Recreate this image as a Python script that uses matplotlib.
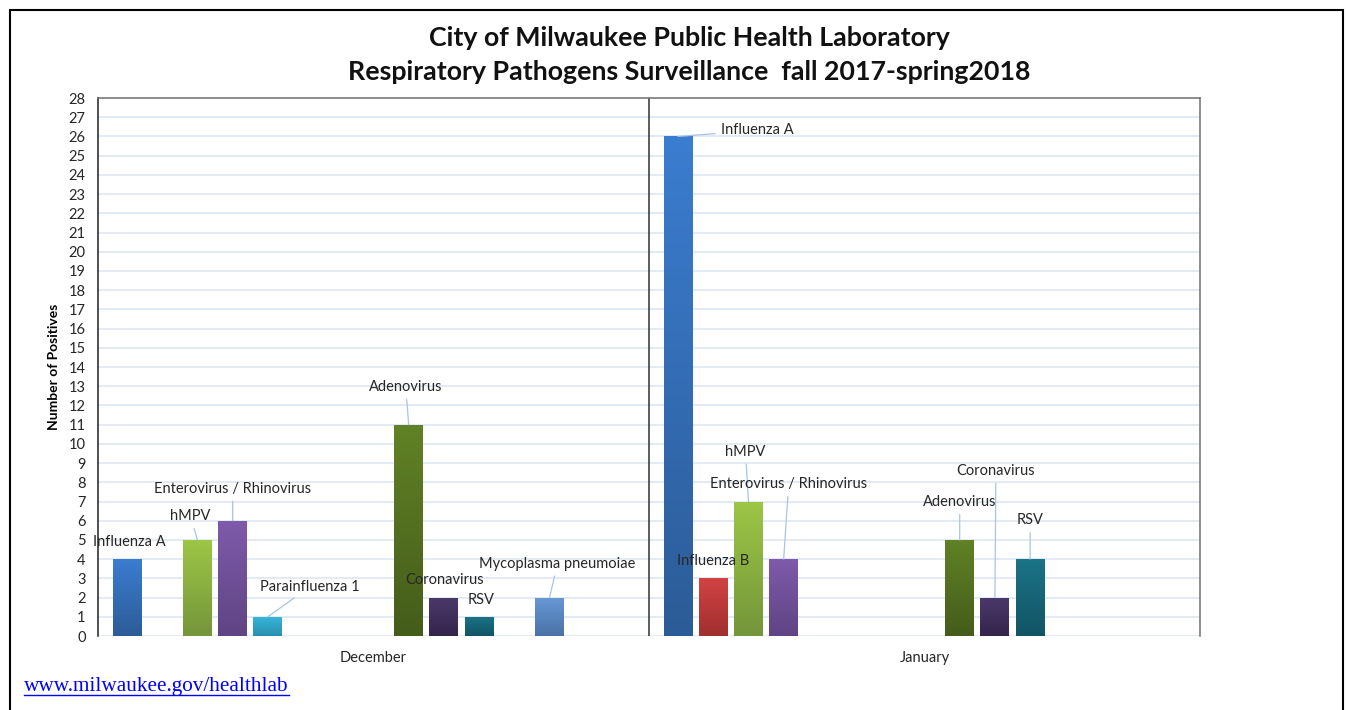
import matplotlib.pyplot as plt
import numpy as np
from matplotlib.colors import LinearSegmentedColormap
from matplotlib.lines import Line2D
from matplotlib.patches import Rectangle

# data
months = ["December", "January"]
# 15 series slots in the chart; unlabeled slots are empty in both months
pathogens = ["Influenza A", "Influenza B", "hMPV", "Enterovirus / Rhinovirus",
             "Parainfluenza 1", "", "", "", "Adenovirus", "Coronavirus", "RSV",
             "", "Mycoplasma pneumoiae", "", ""]
december = [4, 0, 5, 6, 1, 0, 0, 0, 11, 2, 1, 0, 2, 0, 0]
january = [26, 3, 7, 4, 0, 0, 0, 0, 5, 2, 4, 0, 0, 0, 0]

# (top, bottom) gradient colours per series
colors = [("#3b7dd0", "#2c5c97"), ("#d24343", "#a02f2f"), ("#9dc746", "#74953a"),
          ("#7f5bab", "#5f4484"), ("#37b6d8", "#2b8fb0"), ("#999999", "#777777"),
          ("#999999", "#777777"), ("#999999", "#777777"), ("#618226", "#445c1a"),
          ("#4b3a6a", "#33244c"), ("#1b7487", "#125465"), ("#999999", "#777777"),
          ("#6798d6", "#4a72a6"), ("#999999", "#777777"), ("#999999", "#777777")]

# label offsets from bar top in pixels (dx, dy) and whether a leader line is drawn
label_pos = {
    (0, 0): (2, 17, False), (0, 2): (-7, 24, True), (0, 3): (0, 32, True),
    (0, 4): (42, 30, True), (0, 8): (-3, 38, True), (0, 9): (1, 18, False),
    (0, 10): (2, 17, False), (0, 12): (8, 34, True),
    (1, 0): (79, 6, True), (1, 1): (0, 17, False), (1, 2): (-3, 50, True),
    (1, 3): (5, 75, True), (1, 8): (0, 38, True), (1, 9): (1, 127, True),
    (1, 10): (0, 39, True),
}

plt.rcParams['font.family'] = ['Lato', 'DejaVu Sans']

W, H = 1347, 710
fig = plt.figure(figsize=(W / 100, H / 100), dpi=100)
ax = fig.add_axes([98 / W, 1 - 636 / H, 1102 / W, 538 / H])

slot = 0.0639
width = 0.0526
grad = np.linspace(0, 1, 256).reshape(-1, 1)

for m, vals in enumerate([december, january]):
    for k, v in enumerate(vals):
        if v == 0:
            continue
        x = m + 0.5 + (k - 7) * slot
        bar = ax.bar(x, v, width, color="none", edgecolor="none", zorder=2)[0]
        cmap = LinearSegmentedColormap.from_list("g", [colors[k][1], colors[k][0]])
        im = ax.imshow(grad, extent=[x - width / 2, x + width / 2, 0, v],
                       aspect="auto", origin="lower", cmap=cmap, zorder=2)
        im.set_clip_path(bar)
        dx, dy, leader = label_pos[(m, k)]
        ap = dict(arrowstyle="-", color="#a8c3e6", lw=0.9,
                  shrinkA=2, shrinkB=0) if leader else None
        ax.annotate(pathogens[k], xy=(x, v), xytext=(dx * 0.72, dy * 0.72),
                    textcoords="offset points", ha="center", va="center",
                    fontsize=10.5, color="#262626", arrowprops=ap, zorder=4)

ax.set_xlim(0, 2)
ax.set_ylim(0, 28)
ax.set_yticks(range(29))
ax.set_xticks([0.5, 1.5])
ax.set_xticklabels(months)
ax.tick_params(axis="both", length=0, labelsize=10.5, colors="#262626")
ax.tick_params(axis="x", pad=11)
ax.tick_params(axis="y", pad=9)
ax.yaxis.grid(True, color="#d9e4f2", lw=1.1)
ax.set_axisbelow(True)
ax.axvline(1, color="#303030", lw=1.1, zorder=1)
ax.spines["bottom"].set_visible(False)
ax.spines["left"].set_color("#202020")
ax.spines["top"].set_color("#707070")
ax.spines["right"].set_color("#707070")
for s in ["left", "top", "right"]:
    ax.spines[s].set_linewidth(1.1)
ax.set_ylabel("Number of Positives", fontsize=10, fontweight="bold", labelpad=6)

fig.text(689 / W, 1 - 38 / H, "City of Milwaukee Public Health Laboratory",
         ha="center", va="center", fontsize=19.3, fontweight="bold", color="#111111")
fig.text(689 / W, 1 - 72 / H, "Respiratory Pathogens Surveillance  fall 2017-spring2018",
         ha="center", va="center", fontsize=19.3, fontweight="bold", color="#111111")

link = fig.text(24 / W, 1 - 687 / H, "www.milwaukee.gov/healthlab",
                family="Liberation Serif", fontsize=15.3, color="#0000ff", va="center")

# outer frame
fig.patches.append(Rectangle((10 / W, -0.1), 1333 / W, 1.1 - 10 / H, transform=fig.transFigure,
                             fill=False, lw=1.5, edgecolor="black"))

fig.canvas.draw()
bb = link.get_window_extent()
fig.lines.append(Line2D([bb.x0 / W, bb.x1 / W], [(bb.y0 + 2) / H, (bb.y0 + 2) / H],
                        transform=fig.transFigure, color="#0000ff", lw=1))

fig.savefig("out.png", dpi=100)
